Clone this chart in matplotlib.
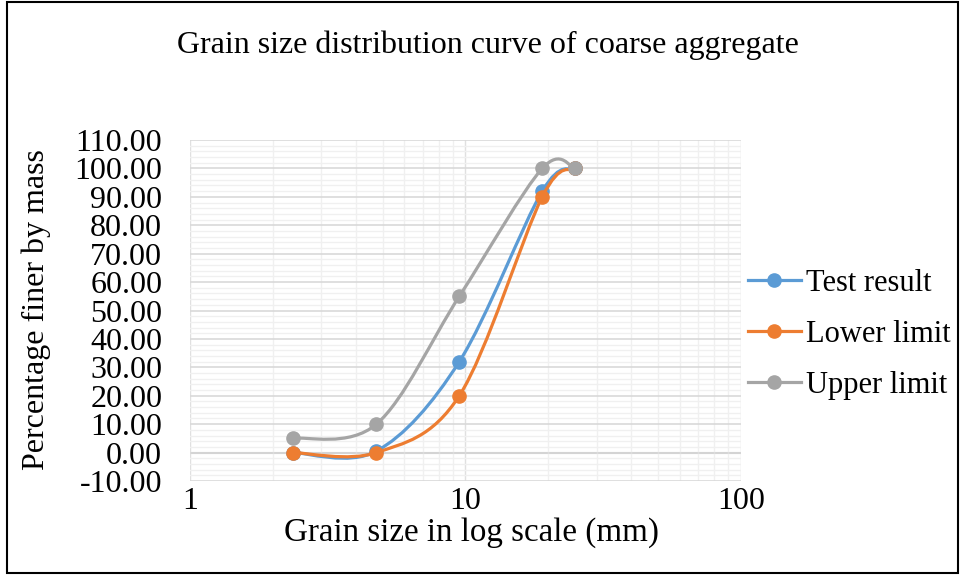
import numpy as np
import matplotlib
matplotlib.use('Agg')
from matplotlib import pyplot as plt
from matplotlib.path import Path
from matplotlib.patches import PathPatch, Rectangle
from matplotlib.lines import Line2D
from matplotlib.ticker import FixedLocator, LogLocator, NullFormatter

plt.rcParams['font.family'] = ['Liberation Serif', 'DejaVu Serif']

# sieve sizes (mm) and percentage passing
sizes = [2.36, 4.75, 9.5, 19, 25]
test_result = [0, 0.5, 32, 92, 100]
lower_limit = [0, 0, 20, 90, 100]
upper_limit = [5, 10, 55, 100, 100]
series_names = ['Test result', 'Lower limit', 'Upper limit']
colors = ['#5B9BD5', '#ED7D31', '#A5A5A5']


def smooth_path(xs, ys):
    # Excel-like smoothed line: cubic bezier through points, built in log-x space
    px = np.log10(xs)
    py = np.asarray(ys, dtype=float)
    n = len(px)
    verts = [(xs[0], py[0])]
    codes = [Path.MOVETO]
    for i in range(n - 1):
        i0 = max(i - 1, 0)
        i3 = min(i + 2, n - 1)
        c1 = (px[i] + (px[i + 1] - px[i0]) / 6, py[i] + (py[i + 1] - py[i0]) / 6)
        c2 = (px[i + 1] - (px[i3] - px[i]) / 6, py[i + 1] - (py[i3] - py[i]) / 6)
        verts += [(10 ** c1[0], c1[1]), (10 ** c2[0], c2[1]), (xs[i + 1], py[i + 1])]
        codes += [Path.CURVE4] * 3
    return Path(verts, codes)


fig = plt.figure(figsize=(9.61, 5.75), dpi=100)
ax = fig.add_axes([0.1977, 0.1635, 0.5733, 0.593])

ax.set_xscale('log')
ax.set_xlim(1, 100)
ax.set_ylim(-10, 110)

ax.yaxis.set_major_locator(FixedLocator(np.arange(-10, 111, 10)))
ax.yaxis.set_minor_locator(FixedLocator(np.arange(-10, 111, 2)))
ax.xaxis.set_major_locator(FixedLocator([1, 10, 100]))
ax.xaxis.set_minor_locator(LogLocator(base=10, subs=np.arange(2, 10)))
ax.xaxis.set_minor_formatter(NullFormatter())
ax.set_xticklabels(['1', '10', '100'])
ax.set_yticklabels(['%.2f' % v for v in np.arange(-10, 111, 10)])

ax.grid(which='major', axis='y', color='#D9D9D9', linewidth=1.2)
ax.grid(which='major', axis='x', color='#E0E0E0', linewidth=1.0)
ax.grid(which='minor', color='#F0F0F0', linewidth=1.0)
ax.axhline(0, color='#BFBFBF', linewidth=1.5, zorder=1)
ax.tick_params(which='both', length=0, labelsize=23)
ax.tick_params(axis='y', pad=20)
ax.tick_params(axis='x', pad=4)
for s in ax.spines.values():
    s.set_visible(False)

handles = []
for name, vals, c in zip(series_names, [test_result, lower_limit, upper_limit], colors):
    ax.add_patch(PathPatch(smooth_path(sizes, vals), fill=False, edgecolor=c,
                           linewidth=2.3, zorder=3, capstyle='round'))
    ax.plot(sizes, vals, 'o', color=c, markersize=9.5, zorder=3)
    handles.append(Line2D([], [], color=c, linewidth=2.3, marker='o', markersize=9.5))

fig.legend(handles, series_names, loc='center left', bbox_to_anchor=(0.778, 0.418),
           frameon=False, fontsize=22, handlelength=1.75, handletextpad=0.15,
           labelspacing=0.72, borderaxespad=0, borderpad=0)

fig.text(0.508, 0.921, 'Grain size distribution curve of coarse aggregate',
         ha='center', va='center', fontsize=23)
fig.text(0.491, 0.073, 'Grain size in log scale (mm)', ha='center', va='center', fontsize=23.8)
fig.text(0.038, 0.462, 'Percentage finer by mass', ha='center', va='center',
         rotation=90, fontsize=23)

fig.patches.append(Rectangle((0.007, 0.004), 0.99, 0.992, transform=fig.transFigure,
                             fill=False, edgecolor='black', linewidth=1.5))

plt.savefig('out.png', dpi=100)
